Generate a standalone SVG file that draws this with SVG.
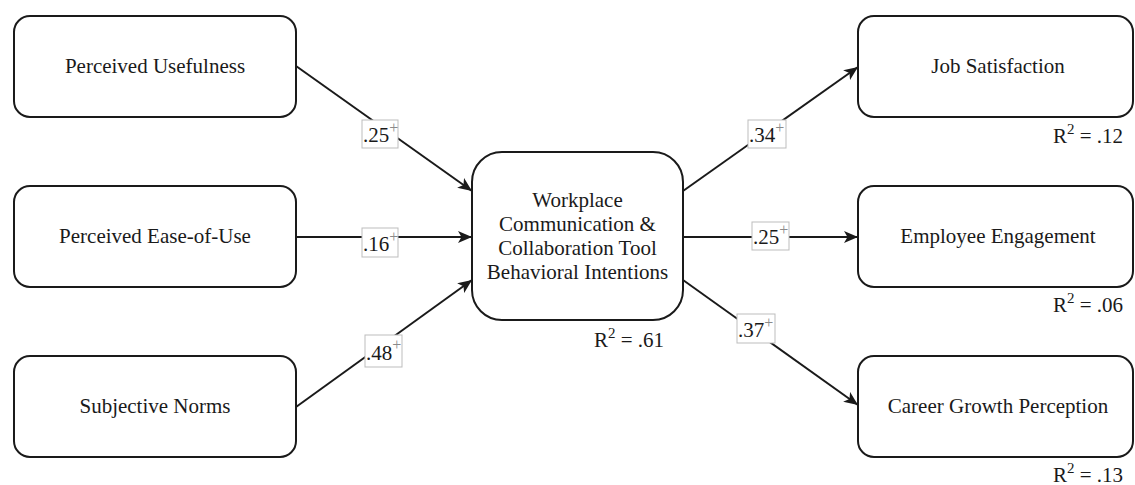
<svg xmlns="http://www.w3.org/2000/svg" width="1135" height="485" viewBox="0 0 1135 485">
  <style>
    .node { fill: #ffffff; stroke: #1a1a1a; stroke-width: 2; }
    .lbl { font-family: "Liberation Serif", "Times New Roman", serif; font-size: 21px; fill: #1a1a1a; text-anchor: middle; }
    .r2 { font-family: "Liberation Serif", "Times New Roman", serif; font-size: 21px; fill: #1a1a1a; text-anchor: end; }
    .sup { font-size: 15px; }
    .edge { stroke: #1a1a1a; stroke-width: 2; fill: none; marker-end: url(#arrow); }
    .ebox { fill: #ffffff; stroke: #bdbdbd; stroke-width: 1; }
    .etxt { font-family: "Liberation Serif", "Times New Roman", serif; font-size: 21px; fill: #1a1a1a; }
    .plus { font-size: 16px; fill: #8a8a8a; }
  </style>
  <defs>
    <marker id="arrow" viewBox="0 0 14 12" refX="14" refY="6" markerWidth="14" markerHeight="12" markerUnits="userSpaceOnUse" orient="auto">
      <path d="M0,0 L14,6 L0,12 L3.5,6 Z" fill="#1a1a1a"/>
    </marker>
  </defs>
  <rect width="1135" height="485" fill="#ffffff"/>

  <!-- connectors with coefficient labels -->
  <g id="connectors">
    <line class="edge" x1="296" y1="66" x2="472" y2="191"/>
    <line class="edge" x1="296" y1="237" x2="472" y2="237"/>
    <line class="edge" x1="296" y1="407" x2="472" y2="280"/>
    <line class="edge" x1="683" y1="191" x2="858" y2="67"/>
    <line class="edge" x1="683" y1="237" x2="858" y2="237"/>
    <line class="edge" x1="683" y1="280" x2="858" y2="405"/>

    <g id="coef-pu">
      <rect class="ebox" x="362" y="120" width="36" height="28"/>
      <text class="etxt" x="363" y="142">.25<tspan class="plus" dy="-9">+</tspan></text>
    </g>
    <g id="coef-peou">
      <rect class="ebox" x="362" y="228" width="36" height="29"/>
      <text class="etxt" x="363" y="251">.16<tspan class="plus" dy="-9">+</tspan></text>
    </g>
    <g id="coef-sn">
      <rect class="ebox" x="365" y="335" width="37" height="32"/>
      <text class="etxt" x="366" y="360">.48<tspan class="plus" dy="-10">+</tspan></text>
    </g>
    <g id="coef-js">
      <rect class="ebox" x="748" y="120" width="38" height="28"/>
      <text class="etxt" x="749" y="142">.34<tspan class="plus" dy="-9">+</tspan></text>
    </g>
    <g id="coef-ee">
      <rect class="ebox" x="752" y="222" width="37" height="28"/>
      <text class="etxt" x="753" y="244">.25<tspan class="plus" dy="-9">+</tspan></text>
    </g>
    <g id="coef-cgp">
      <rect class="ebox" x="737" y="314" width="38" height="29"/>
      <text class="etxt" x="738" y="337">.37<tspan class="plus" dy="-9">+</tspan></text>
    </g>
  </g>

  <!-- predictors -->
  <g id="perceived-usefulness">
    <rect class="node" x="14" y="16" width="282" height="101" rx="16"/>
    <text class="lbl" x="155" y="73">Perceived Usefulness</text>
  </g>
  <g id="perceived-ease-of-use">
    <rect class="node" x="14" y="186" width="282" height="101" rx="16"/>
    <text class="lbl" x="155" y="243">Perceived Ease-of-Use</text>
  </g>
  <g id="subjective-norms">
    <rect class="node" x="14" y="356" width="282" height="101" rx="16"/>
    <text class="lbl" x="155" y="413">Subjective Norms</text>
  </g>

  <!-- mediator -->
  <g id="behavioral-intentions">
    <rect class="node" x="472" y="152" width="211" height="168" rx="30"/>
    <text class="lbl" x="577.5" y="207">Workplace</text>
    <text class="lbl" x="577.5" y="231">Communication &amp;</text>
    <text class="lbl" x="577.5" y="255">Collaboration Tool</text>
    <text class="lbl" x="577.5" y="279">Behavioral Intentions</text>
    <text class="r2" x="664" y="347">R<tspan class="sup" dy="-9">2</tspan><tspan dy="9"> = .61</tspan></text>
  </g>

  <!-- outcomes -->
  <g id="job-satisfaction">
    <rect class="node" x="858" y="16" width="275" height="101" rx="16"/>
    <text class="lbl" x="998" y="73">Job Satisfaction</text>
    <text class="r2" x="1123" y="143">R<tspan class="sup" dy="-9">2</tspan><tspan dy="9"> = .12</tspan></text>
  </g>
  <g id="employee-engagement">
    <rect class="node" x="858" y="186" width="275" height="101" rx="16"/>
    <text class="lbl" x="998" y="243">Employee Engagement</text>
    <text class="r2" x="1123" y="312">R<tspan class="sup" dy="-9">2</tspan><tspan dy="9"> = .06</tspan></text>
  </g>
  <g id="career-growth-perception">
    <rect class="node" x="858" y="356" width="275" height="101" rx="16"/>
    <text class="lbl" x="998" y="413">Career Growth Perception</text>
    <text class="r2" x="1123" y="482">R<tspan class="sup" dy="-9">2</tspan><tspan dy="9"> = .13</tspan></text>
  </g>
</svg>
